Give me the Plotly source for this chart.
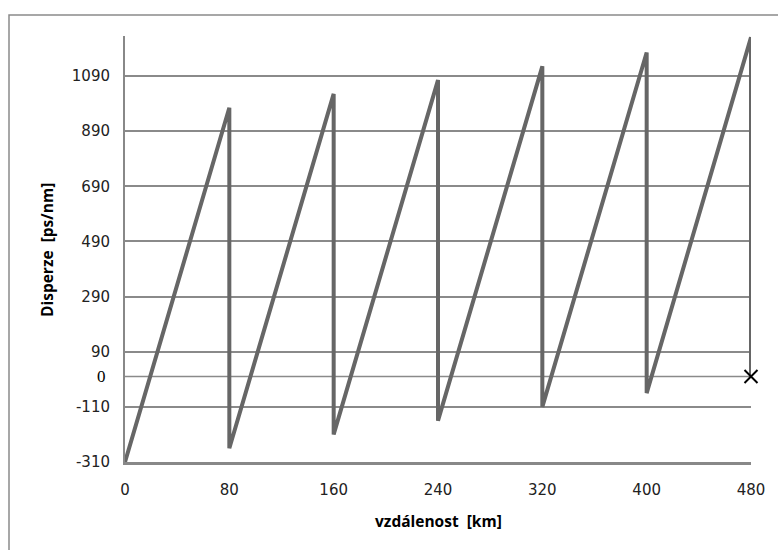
import plotly.graph_objects as go

# data
distance_km = [0, 80, 80, 160, 160, 240, 240, 320, 320, 400, 400, 480, 480]
dispersion = [-310, 975, -260, 1025, -210, 1075, -160, 1125, -110, 1175, -60, 1230, 0]
y_ticks = [-310, -110, 90, 290, 490, 690, 890, 1090]
y_tick_labels = ["-310", "-110", "90", "290", "490", "690", "890", "1090"]
x_ticks = [0, 80, 160, 240, 320, 400, 480]
end_point_x = [480]
end_point_y = [0]

W, H = 778, 550
L, R, T, B = 125, 27, 36, 88
pw, ph = W - L - R, H - T - B

fig = go.Figure()
# zero reference line
fig.add_trace(go.Scatter(x=[x_ticks[0], x_ticks[-1]], y=[0, 0], mode="lines",
                         line=dict(color="#8a8a8a", width=1.5), hoverinfo="skip", showlegend=False))
fig.add_trace(go.Scatter(x=distance_km, y=dispersion, mode="lines",
                         line=dict(color="#666666", width=4), showlegend=False))
fig.add_trace(go.Scatter(x=end_point_x, y=end_point_y, mode="markers", cliponaxis=False,
                         marker=dict(symbol="x-thin", size=13, line=dict(color="black", width=2)),
                         showlegend=False))

tickfont = dict(family="DejaVu Sans", size=15, color="#222222")
fig.update_layout(
    width=W, height=H,
    margin=dict(l=L, r=R, t=T, b=B),
    paper_bgcolor="white", plot_bgcolor="white",
    xaxis=dict(range=[0, 480], tickvals=x_ticks, showgrid=False, zeroline=False,
               showline=True, linecolor="#888888", linewidth=3, ticks="",
               tickfont=tickfont, ticklabelstandoff=12),
    yaxis=dict(range=[-310, 1235], tickvals=y_ticks, ticktext=y_tick_labels,
               showgrid=True, gridcolor="#8a8a8a",
               gridwidth=1.5, zeroline=False, showline=True, linecolor="#888888", linewidth=2,
               ticks="outside", ticklen=10, tickcolor="rgba(0,0,0,0)",
               tickfont=tickfont),
    font=dict(family="DejaVu Sans"),
)

def px(xp):
    return (xp - L) / pw

def py(yp):
    return (H - B - yp) / ph

fig.add_shape(type="rect", xref="paper", yref="paper",
              x0=px(9), x1=px(790), y0=py(15), y1=py(560),
              line=dict(color="#8a8a8a", width=1.5), layer="below")

fig.add_annotation(xref="paper", yref="y", x=px(108), y=0, text="0", showarrow=False,
                   xanchor="right", yanchor="middle",
                   font=dict(family="Liberation Serif", size=17, color="black"))
fig.add_annotation(xref="paper", yref="paper", x=px(438), y=py(521), text="<b>vzdálenost  [km]</b>",
                   showarrow=False, xanchor="center", yanchor="middle",
                   font=dict(family="Open Sans", size=15.5, color="black"))
fig.add_annotation(xref="paper", yref="paper", x=px(47), y=py(250), text="<b>Disperze  [ps/nm]</b>",
                   showarrow=False, xanchor="center", yanchor="middle", textangle=-90,
                   font=dict(family="Open Sans", size=15.5, color="black"))

fig.write_html("out.html")
